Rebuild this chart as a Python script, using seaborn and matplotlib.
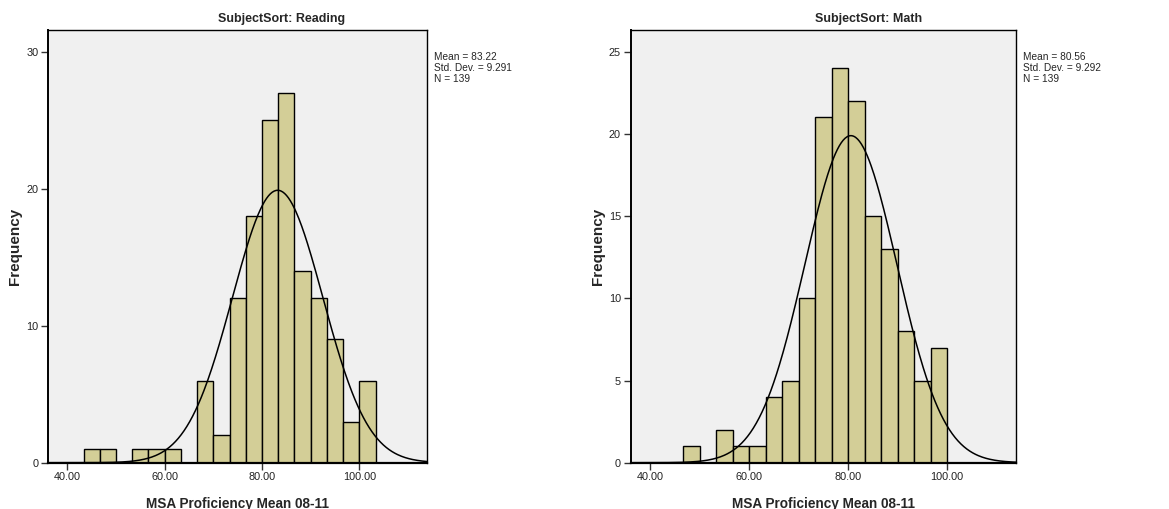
import numpy as np
import pandas as pd
import matplotlib
matplotlib.use("Agg")
import matplotlib.pyplot as plt
import seaborn as sns

# ---- data ----
bin_width = 10.0 / 3.0
reading_bin_start = 43.333
reading_counts = [1, 1, 0, 1, 1, 1, 0, 6, 2, 12, 18, 25, 27, 14, 12, 9, 3, 6]
math_bin_start = 46.667
math_counts = [1, 0, 2, 1, 1, 4, 5, 10, 21, 24, 22, 15, 13, 8, 5, 7]
reading_stats = {"mean": 83.22, "sd": 9.291, "n": 139}
math_stats = {"mean": 80.56, "sd": 9.292, "n": 139}
titles = ["SubjectSort: Reading", "SubjectSort: Math"]
x_ticks = [40, 60, 80, 100]
reading_yticks = [0, 10, 20, 30]
math_yticks = [0, 5, 10, 15, 20, 25]

sns.set_theme(style="white")
plt.rcParams["font.family"] = ["Liberation Sans", "DejaVu Sans"]

fig = plt.figure(figsize=(11.69, 5.09), dpi=100)
W, H = 1169, 509

def px_axes(l, t, r, b):
    return fig.add_axes([l / W, 1 - b / H, (r - l) / W, (b - t) / H])

panels = [
    dict(ax=px_axes(48.3, 30, 427, 462.7), start=reading_bin_start, counts=reading_counts,
         stats=reading_stats, title=titles[0], yticks=reading_yticks, ylim=31.6,
         title_x=282, stats_x=433.5, ylab_x=15),
    dict(ax=px_axes(630.7, 30, 1016, 462.7), start=math_bin_start, counts=math_counts,
         stats=math_stats, title=titles[1], yticks=math_yticks, ylim=26.32,
         title_x=869, stats_x=1022.5, ylab_x=598),
]

for p in panels:
    ax = p["ax"]
    counts = np.array(p["counts"], dtype=float)
    edges = p["start"] + bin_width * np.arange(len(counts) + 1)
    centers = (edges[:-1] + edges[1:]) / 2
    df = pd.DataFrame({"x": centers, "w": counts})
    sns.histplot(data=df, x="x", weights="w", bins=[float(e) for e in edges], ax=ax,
                 color="#D3CE97", edgecolor="black", linewidth=1.0, alpha=1.0)
    st = p["stats"]
    xs = np.linspace(36.1, 113.9, 400)
    ys = st["n"] * bin_width * np.exp(-0.5 * ((xs - st["mean"]) / st["sd"]) ** 2) / (st["sd"] * np.sqrt(2 * np.pi))
    sns.lineplot(x=xs, y=ys, ax=ax, color="black", linewidth=1.1)
    ax.set_facecolor("#F0F0F0")
    ax.set_xlim(36.1, 113.9)
    ax.set_ylim(0, p["ylim"])
    ax.set_xticks(x_ticks)
    ax.set_xticklabels([f"{t:.2f}" for t in x_ticks], fontsize=7.8, color="#222222")
    ax.set_yticks(p["yticks"])
    ax.set_yticklabels([str(t) for t in p["yticks"]], fontsize=7.8, color="#222222")
    ax.tick_params(axis="both", which="major", direction="out", length=5, width=1,
                   color="#333333", pad=2, bottom=True, left=True)
    for s in ax.spines.values():
        s.set_color("black")
        s.set_linewidth(1.0)
    ax.spines["bottom"].set_linewidth(1.6)
    ax.spines["left"].set_linewidth(1.4)
    ax.set_xlabel("")
    ax.set_ylabel("")
    fig.text(p["title_x"] / W, 1 - 19 / H, p["title"], ha="center", va="center",
             fontsize=9, fontweight="bold")
    fig.text((ax.get_position().x0 + ax.get_position().x1) / 2, 1 - 504 / H,
             "MSA Proficiency Mean 08-11", ha="center", va="center", fontsize=9.8, fontweight="bold")
    fig.text(p["ylab_x"] / W, 1 - 246 / H, "Frequency", ha="center", va="center",
             rotation=90, fontsize=11, fontweight="bold")
    fig.text(p["stats_x"] / W, 1 - 52 / H,
             f"Mean = {st['mean']:.2f}\nStd. Dev. = {st['sd']:.3f}\nN = {st['n']}",
             ha="left", va="top", fontsize=7.3, linespacing=1.15)

fig.savefig("out.png", dpi=100, facecolor="white")
